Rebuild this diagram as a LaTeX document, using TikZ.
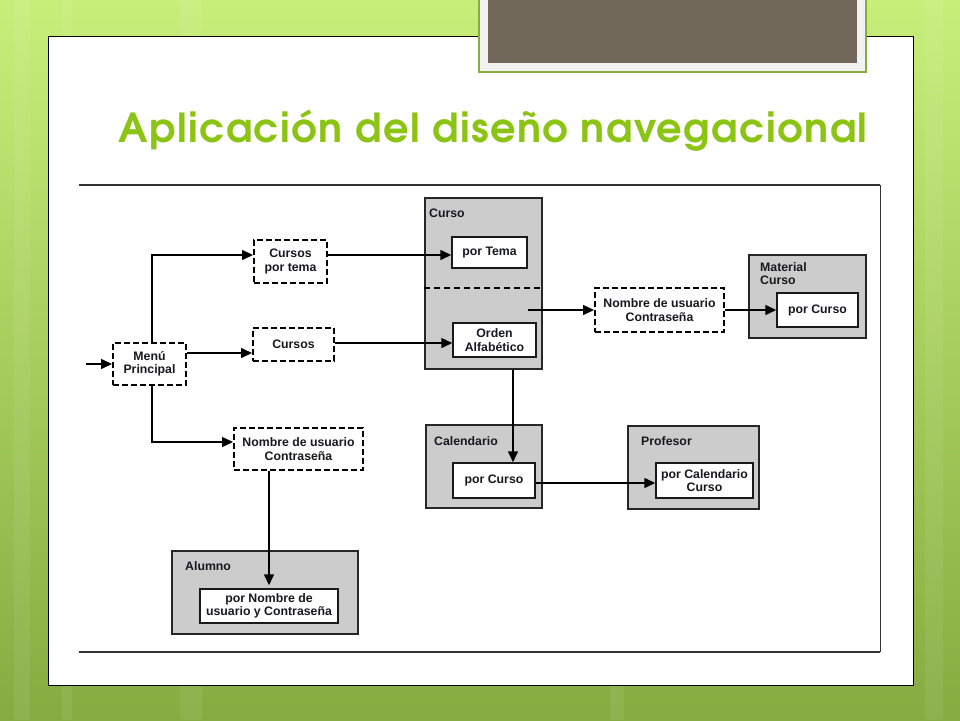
\documentclass[tikz,border=0pt]{standalone}
\usepackage{fontspec}
\setmainfont{Liberation Sans}
\newfontfamily\titlefont{texgyreadventor-bold.otf}[LetterSpace=3.5]
\usetikzlibrary{arrows.meta}

\definecolor{titlegreen}{RGB}{140,196,20}
\definecolor{bgtop}{RGB}{200,238,122}
\definecolor{bgbottom}{RGB}{132,172,64}
\definecolor{framebrown}{RGB}{113,104,89}
\definecolor{boxgray}{RGB}{204,204,204}
\definecolor{ink}{RGB}{24,24,32}

\begin{document}
\begin{tikzpicture}[x=1pt, y=-1pt,
    txt/.style={font=\fontsize{12.3}{13.5}\selectfont\bfseries, text=ink, align=center, inner sep=1pt},
    dashbox/.style={txt, draw=black, line width=2pt, dash pattern=on 6pt off 3pt, fill=white},
    grupo/.style={draw=black!85, line width=1.5pt, fill=boxgray},
    vista/.style={txt, draw=black!90, line width=1.5pt, fill=white},
    rotulo/.style={txt, anchor=west, align=left},
    flecha/.style={-{Triangle[length=11pt,width=10pt]}, line width=1.5pt}]

    \useasboundingbox (0,0) rectangle (960,720);
    \shade[top color=bgtop, bottom color=bgbottom] (0,0) rectangle (960,720);
    \foreach \x/\w in {14/16, 62/10, 180/22, 610/14, 925/18}
        \fill[white, opacity=0.07] (\x,0) rectangle ++(\w,720);

    \draw[line width=1pt, fill=white] (48,36) rectangle (913,685);
    \draw[line width=1.5pt, draw=bgbottom, fill=white!95!black] (479,-5) rectangle (866,72);
    \fill[framebrown] (488,-5) rectangle (857,63);

    \node[anchor=base west, inner sep=0, text=titlegreen, font=\titlefont\fontsize{40}{44}\selectfont] at (118,142) (titulo) {Aplicación del diseño navegacional};

    \draw[line width=1.8pt, black!80] (79,185) -- (880,185);
    \draw[line width=1pt, black!80] (880,185) -- (880,652);
    \draw[line width=1.8pt, black!80] (79,652) -- (880,652);

    % grupos
    \node[grupo, minimum width=117pt, minimum height=171pt] at (483.5,283.5) (curso) {};
    \node[grupo, minimum width=117pt, minimum height=83pt] at (807.5,296.5) (material) {};
    \node[grupo, minimum width=116pt, minimum height=83pt] at (484,466.5) (calendario) {};
    \node[grupo, minimum width=131pt, minimum height=83pt] at (693.5,467.5) (profesor) {};
    \node[grupo, minimum width=186pt, minimum height=83pt] at (265,592.5) (alumno) {};
    \draw[line width=1.2pt, dash pattern=on 6pt off 4pt] (curso.west |- 0,288) -- (curso.east |- 0,288);

    \node[rotulo] at (428,213) (lcurso) {Curso};
    \node[rotulo] at (759,273.5) (lmaterial) {Material\\Curso};
    \node[rotulo] at (433,441) (lcalendario) {Calendario};
    \node[rotulo] at (640,441) (lprofesor) {Profesor};
    \node[rotulo] at (184,566) (lalumno) {Alumno};

    \node[vista, minimum width=75pt, minimum height=31pt] at (489.5,252.5) (ptema) {por Tema};
    \node[vista, minimum width=83pt, minimum height=34pt] at (494.5,340) (orden) {Orden\\Alfabético};
    \node[vista, minimum width=81pt, minimum height=34pt] at (817.5,310) (pcm) {por Curso};
    \node[vista, minimum width=82pt, minimum height=35pt] at (494,480.5) (pcc) {por Curso};
    \node[vista, minimum width=97pt, minimum height=35pt] at (704.5,480.5) (pcalc) {por Calendario\\Curso};
    \node[vista, minimum width=138pt, minimum height=34pt] at (269,606) (pna) {por Nombre de\\usuario y Contraseña};

    \node[dashbox, minimum width=73pt, minimum height=42pt] at (149.5,364) (menu) {Menú\\Principal};
    \node[dashbox, minimum width=73pt, minimum height=43pt] at (290.5,261.5) (cpt) {Cursos\\por tema};
    \node[dashbox, minimum width=81pt, minimum height=33pt] at (293.5,344.5) (cursos) {Cursos};
    \node[dashbox, minimum width=129pt, minimum height=42pt] at (298.5,449) (nom1) {Nombre de usuario\\Contraseña};
    \node[dashbox, minimum width=129pt, minimum height=44pt] at (659.5,310) (nom2) {Nombre de usuario\\Contraseña};

    \coordinate (entrada) at (86,364);
    \coordinate (salida) at (528,310);

    \draw[flecha] (entrada) -- (menu.west);
    \draw[flecha] ([xshift=2.5pt]menu.north) |- ([yshift=6.5pt]cpt.west);
    \draw[flecha] ([yshift=11pt]menu.east) -- ([yshift=-8.5pt]cursos.west);
    \draw[flecha] ([xshift=2.5pt]menu.south) |- ([yshift=7pt]nom1.west);
    \draw[flecha] ([yshift=6.5pt]cpt.east) -- ([yshift=-2.5pt]ptema.west);
    \draw[flecha] ([yshift=1.5pt]cursos.east) -- ([yshift=1.5pt]cursos.east -| orden.west);
    \draw[flecha] ([xshift=-29.5pt]nom1.south) -- ([yshift=3pt]pna.north);
    \draw[flecha] (salida) -- (nom2.west);
    \draw[flecha] (nom2.east) -- (pcm.west);
    \draw[flecha] ([xshift=29.5pt]curso.south) -- ([xshift=19pt]pcc.north);
    \draw[flecha] ([yshift=-2.5pt]pcc.east) -- ([yshift=-2.5pt]pcc.east -| pcalc.west);

\end{tikzpicture}
\end{document}
